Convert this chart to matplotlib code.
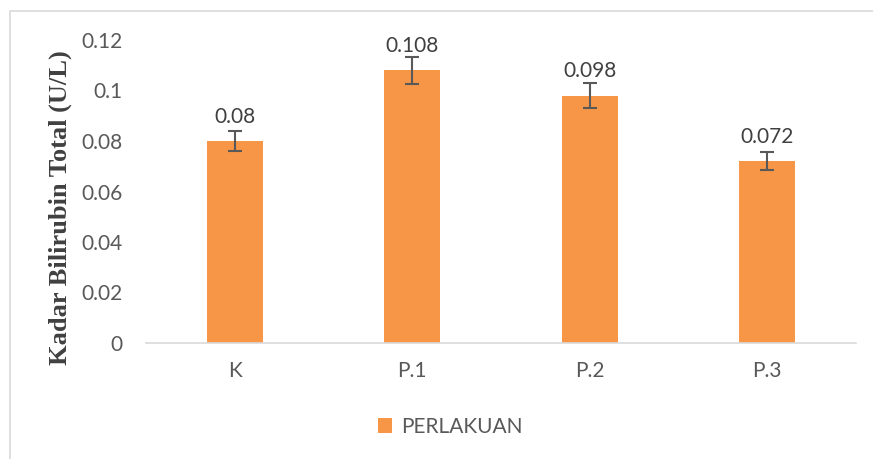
import matplotlib.pyplot as plt
from matplotlib.patches import Rectangle

categories = ['K', 'P.1', 'P.2', 'P.3']
values = [0.08, 0.108, 0.098, 0.072]
errors = [0.004, 0.0054, 0.005, 0.0035]
value_labels = ['0.08', '0.108', '0.098', '0.072']
yticks = [0, 0.02, 0.04, 0.06, 0.08, 0.1, 0.12]
ytick_labels = ['0', '0.02', '0.04', '0.06', '0.08', '0.1', '0.12']

plt.rcParams['font.family'] = ['Lato', 'DejaVu Sans']

fig = plt.figure(figsize=(8.73, 4.59), dpi=100)
ax = fig.add_axes([146/873, 116/459, 710/873, 303/459])

x = range(len(categories))
ax.bar(x, values, width=0.315, color='#F79646', label='PERLAKUAN', zorder=2)
ax.errorbar(x, values, yerr=errors, fmt='none', ecolor='#595959',
            elinewidth=1.5, capsize=5, capthick=1.5, zorder=3)

for i, (v, t) in enumerate(zip(values, value_labels)):
    ax.annotate(t, (i, v), xytext=(0, 13), textcoords='offset points',
                ha='center', va='baseline', fontsize=15, color='#404040')

ax.set_xlim(-0.5, len(categories) - 0.5)
ax.set_ylim(0, 0.12)
ax.set_xticks(list(x))
ax.set_xticklabels(categories)
ax.set_yticks(yticks)
ax.set_yticklabels(ytick_labels)
ax.tick_params(axis='both', length=0, labelsize=15, labelcolor='#595959')
ax.tick_params(axis='x', pad=13)
ax.tick_params(axis='y', pad=17)

for s in ['top', 'right', 'left']:
    ax.spines[s].set_visible(False)
ax.spines['bottom'].set_color('#d9d9d9')
ax.spines['bottom'].set_linewidth(1.2)

fig.text(60/873, 1 - 208/459, 'Kadar Bilirubin Total (U/L)', rotation=90,
         ha='center', va='center', fontsize=19, fontweight='bold',
         family='Liberation Serif', color='#404040')

ax.legend(loc='center', bbox_to_anchor=(450/873, 1 - 427/459),
          bbox_transform=fig.transFigure, frameon=False, fontsize=15,
          handlelength=0.7, handleheight=0.7, handletextpad=0.4,
          labelcolor='#595959')

fig.patches.append(Rectangle((10/873, -0.1), 1.0, 1.1 - 11/459,
                             transform=fig.transFigure, fill=False,
                             edgecolor='#d9d9d9', linewidth=1.2))

fig.savefig('out.png', dpi=100)
